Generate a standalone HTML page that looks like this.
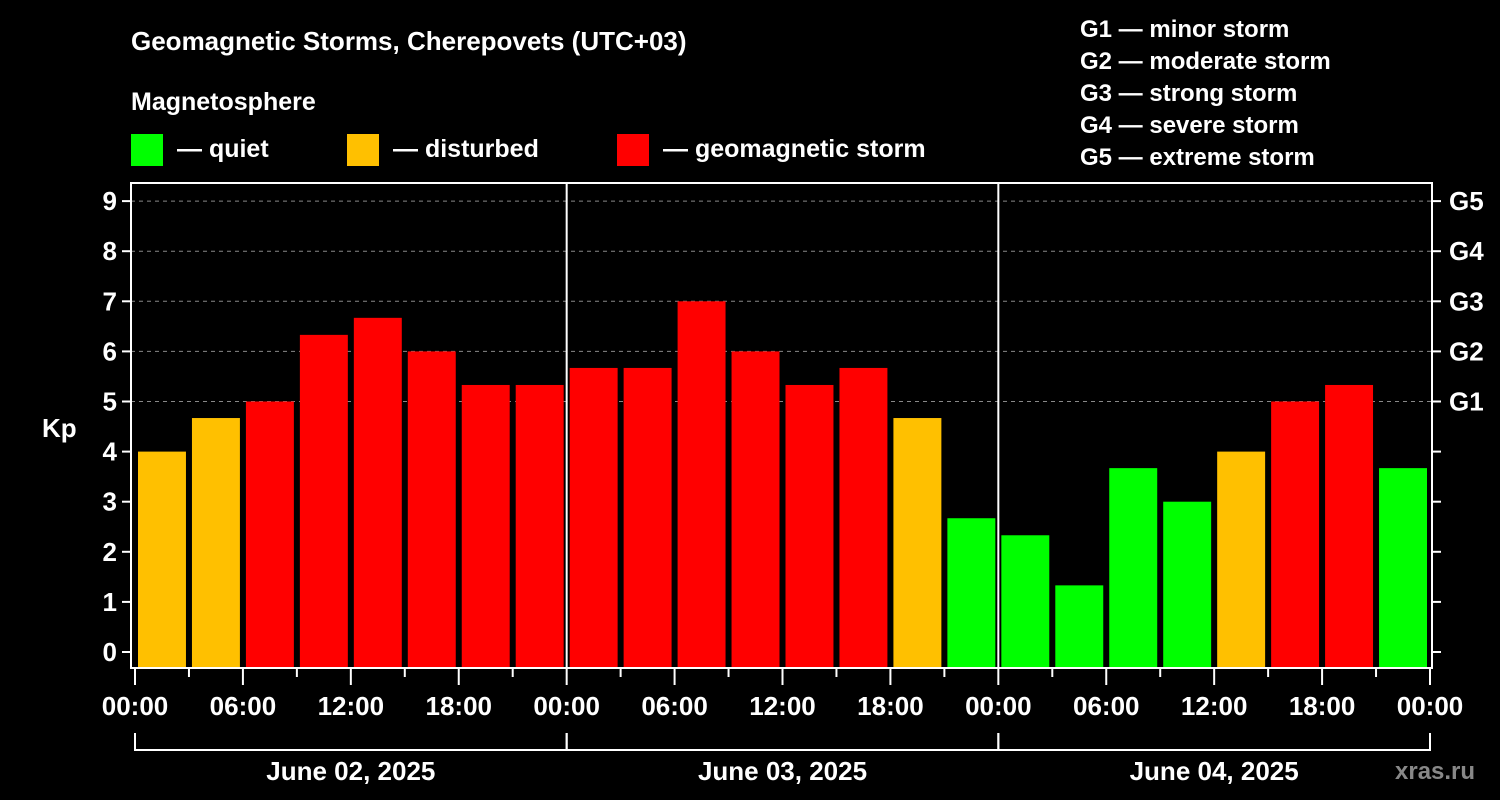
<!DOCTYPE html>
<html><head><meta charset="utf-8"><style>
html,body{margin:0;padding:0;background:#000;}
svg{display:block;font-family:"Liberation Sans",Arial,sans-serif;font-weight:bold;}
</style></head><body>
<svg id="chart" width="1500" height="800" viewBox="0 0 1500 800">
<rect width="1500" height="800" fill="#000"/>
<text x="131" y="50" fill="#fff" font-size="26">Geomagnetic Storms, Cherepovets (UTC+03)</text>
<text x="131" y="110" fill="#fff" font-size="25">Magnetosphere</text>
<g><rect x="131" y="134" width="32" height="32" fill="#00ff00"/><text x="177" y="157" fill="#fff" font-size="25">— quiet</text></g>
<g><rect x="347" y="134" width="32" height="32" fill="#ffc000"/><text x="393" y="157" fill="#fff" font-size="25">— disturbed</text></g>
<g><rect x="617" y="134" width="32" height="32" fill="#ff0000"/><text x="663" y="157" fill="#fff" font-size="25">— geomagnetic storm</text></g>
<g fill="#fff" font-size="24">
<text x="1080" y="37">G1 — minor storm</text>
<text x="1080" y="69">G2 — moderate storm</text>
<text x="1080" y="101">G3 — strong storm</text>
<text x="1080" y="133">G4 — severe storm</text>
<text x="1080" y="165">G5 — extreme storm</text>
</g>
<text x="42" y="437" fill="#fff" font-size="26">Kp</text>
<text x="1395" y="779" fill="#888" font-size="24">xras.ru</text>
<g id="grid"></g><g id="bars"></g><g id="axes"></g>
</svg>
<script>
const kpValues=[4,4.67,5,6.33,6.67,6,5.33,5.33,5.67,5.67,7,6,5.33,5.67,4.67,2.67,2.33,1.33,3.67,3,4,5,5.33,3.67];
const dayLabels=["June 02, 2025","June 03, 2025","June 04, 2025"];
const hourLabels=["00:00","06:00","12:00","18:00"];
const yTicks=[0,1,2,3,4,5,6,7,8,9];
const gLabels=["G1","G2","G3","G4","G5"];
const NS="http://www.w3.org/2000/svg";
const L=131,R=1432,T=183,B=668,X0=135,X1=1430;
const y=v=>652-v*50.1;
const slot=(X1-X0)/kpValues.length;
const x=i=>X0+i*slot;
function mk(tag,attrs,parent){const e=document.createElementNS(NS,tag);for(const k in attrs)e.setAttribute(k,attrs[k]);document.getElementById(parent).appendChild(e);return e;}
yTicks.forEach(v=>{
 if(v>=5){const g=mk('line',{x1:L,x2:R,y1:y(v),y2:y(v),stroke:'#888','stroke-dasharray':'4,4','stroke-width':1},'grid');
 
 }
 const t=mk('line',{x1:L-9,x2:L,y1:y(v),y2:y(v),stroke:'#fff','stroke-width':2},'axes');
 
 
 const t2=mk('line',{x1:R,x2:R+9,y1:y(v),y2:y(v),stroke:'#fff','stroke-width':2},'axes');
 
 
 const l=mk('text',{x:L-14,y:y(v)+9,fill:'#fff','font-size':26,'text-anchor':'end'},'axes');l.textContent=v;
 
 
 if(v>=5){const gl=mk('text',{x:R+17,y:y(v)+9,fill:'#fff','font-size':26},'axes');gl.textContent=gLabels[v-5];
 
 }
});
kpValues.forEach((v,i)=>{
 const c=v<4?'#00ff00':(v<5?'#ffc000':'#ff0000');
 const r=mk('rect',{x:x(i)+3,y:y(v),width:slot-6,height:B-y(v),fill:c},'bars');
 
 
});
// day separators
for(let d=1;d<dayLabels.length;d++){const xx=x(d*8);const s=mk('line',{x1:xx,x2:xx,y1:T,y2:B,stroke:'#fff','stroke-width':2},'axes');
 
 }
const f=mk('rect',{x:L,y:T,width:R-L,height:B-T,fill:'none',stroke:'#fff','stroke-width':2},'axes');


for(let i=0;i<=kpValues.length;i++){
 const major=i%2===0;const xx=x(i);
 const t=mk('line',{x1:xx,x2:xx,y1:B,y2:B+(major?17:9),stroke:'#fff','stroke-width':2},'axes');
 
 
 if(major){const l=mk('text',{x:xx,y:715,fill:'#fff','font-size':26,'text-anchor':'middle'},'axes');
 l.textContent=hourLabels[(i/2)%4];
 
 }
}
dayLabels.forEach((d,k)=>{
 const a=x(k*8),b=x((k+1)*8);
 const p=mk('path',{d:`M${a} ${k===0?733:733} V750 H${b}`+(k===dayLabels.length-1?` V733`:''),fill:'none',stroke:'#fff','stroke-width':2},'axes');
 
 
 if(k>0){const s=mk('line',{x1:a,x2:a,y1:733,y2:750,stroke:'#fff','stroke-width':2},'axes');
 
 }
 const l=mk('text',{x:(a+b)/2,y:780,fill:'#fff','font-size':26,'text-anchor':'middle'},'axes');l.textContent=d;
 
 
});
</script>
</body></html>
